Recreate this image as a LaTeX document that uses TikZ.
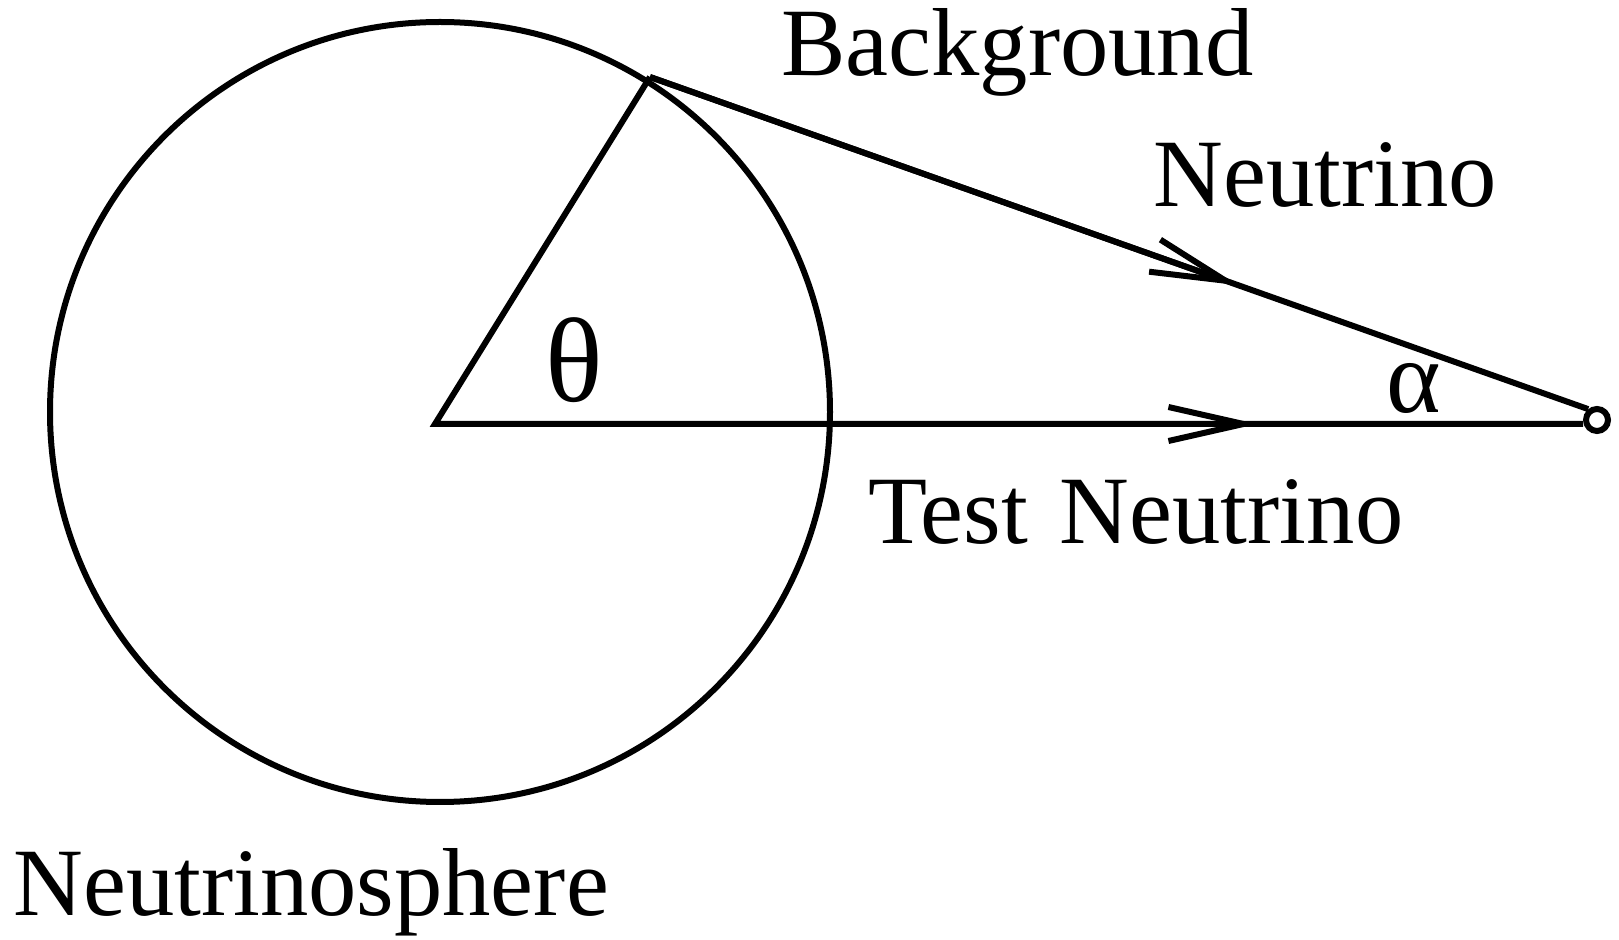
\documentclass[tikz,border=0pt]{standalone}
\usepackage{fontspec}
\setmainfont{Liberation Serif}
\usetikzlibrary{arrows.meta,calc}
\begin{document}
\begin{tikzpicture}[x=0.5pt,y=-0.5pt,
  stroke/.style={line width=3pt},
  lbl/.style={inner sep=0pt, anchor=base west, font=\fontsize{48.3pt}{58pt}\selectfont},
  greek/.style={inner sep=0pt, anchor=center},
  barb/.style={-{Straight Barb[length=37.5pt,width=17pt]}}
]
\useasboundingbox (0,0) rectangle (1619,940);
% neutrinosphere
\node[draw, circle, stroke, minimum size=390pt, inner sep=0pt] (sphere) at (440,412) {};
% key points
\coordinate (O) at (435,424);
\coordinate (P) at (650,77);
\coordinate (T1) at (1257,424);
\node[draw, circle, stroke, minimum size=11pt, inner sep=0pt] (E) at (1597,420) {};
\coordinate (S) at (E.129);
\coordinate (T2) at ($(P)!0.627!(S)$);
% lines
\draw[stroke, line join=miter] (P) -- (O) -- (T1 -| E.west);
\draw[stroke, barb] (O) -- (T1);
\draw[stroke] (P) -- (S);
\draw[stroke, barb] (P) -- (T2);
% labels
\node[lbl] (bg) at (781,76) {Background};
\node[lbl] (nu) at (1153,207) {Neutrino};
\node[lbl] (test) at (868,544) {Test\hskip 16pt Neutrino};
\node[lbl] (ns) at (13,916) {Neutrinosphere};
\node[greek, font=\fontsize{60pt}{70pt}\selectfont] (theta) at (574,360) {θ};
\node[greek, font=\fontsize{52pt}{60pt}\selectfont] (alpha) at (1414,388) {α};
\end{tikzpicture}
\end{document}
